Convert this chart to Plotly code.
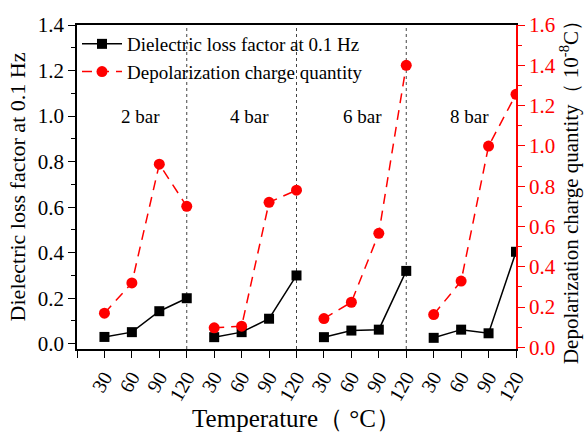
import plotly.graph_objects as go

pressures = ["2 bar", "4 bar", "6 bar", "8 bar"]
temps = [30, 60, 90, 120]
tick_labels = ["30", "60", "90", "120"]

loss_factor = [
    [0.030, 0.051, 0.143, 0.200],
    [0.029, 0.051, 0.110, 0.300],
    [0.029, 0.058, 0.062, 0.320],
    [0.026, 0.062, 0.046, 0.404],
]
charge = [
    [0.170, 0.320, 0.909, 0.700],
    [0.097, 0.105, 0.720, 0.780],
    [0.143, 0.224, 0.566, 1.400],
    [0.163, 0.329, 0.999, 1.256],
]

# build x positions (4 groups x 4 temperatures), gaps between groups
xs, y1, y2 = [], [], []
for g in range(len(pressures)):
    for i in range(len(temps)):
        xs.append(g * len(temps) + i)
        y1.append(loss_factor[g][i])
        y2.append(charge[g][i])
    xs.append(None); y1.append(None); y2.append(None)

FONT = "Liberation Serif"
RED = "#FF0000"

fig = go.Figure()
fig.add_trace(go.Scatter(
    x=xs, y=y1, mode="lines+markers", name="Dielectric loss factor at 0.1 Hz",
    line=dict(color="black", width=1.5),
    marker=dict(symbol="square", size=10, color="black"),
    connectgaps=False,
))
fig.add_trace(go.Scatter(
    x=xs, y=y2, mode="lines+markers", name="Depolarization charge quantity",
    line=dict(color=RED, width=1.5, dash="10px,7px"),
    marker=dict(symbol="circle", size=11, color=RED),
    yaxis="y2", connectgaps=False,
))

n = len(pressures) * len(temps)
tickvals = list(range(-1, n))
ticktext = [" "] + tick_labels * len(pressures)

# dotted separators at the 120 position of groups 1-3
for g in range(len(pressures) - 1):
    xv = g * len(temps) + len(temps) - 1
    fig.add_shape(type="line", xref="x", yref="paper", x0=xv, x1=xv, y0=0, y1=1,
                  line=dict(color="#444444", width=1, dash="dot"), layer="below")

label_x = [1.3, 5.3, 9.4, 13.3]
for p, lx in zip(pressures, label_x):
    fig.add_annotation(x=lx, y=1.0, xref="x", yref="y", text=p, showarrow=False,
                       font=dict(family=FONT, size=19, color="black"))

fig.update_layout(
    width=588, height=434,
    margin=dict(l=77, r=71, t=25, b=83),
    paper_bgcolor="white", plot_bgcolor="white",
    font=dict(family=FONT, size=19, color="black"),
    showlegend=True,
    legend=dict(x=0.0, y=1.0, xanchor="left", yanchor="top",
                bgcolor="rgba(0,0,0,0)", font=dict(family=FONT, size=19, color="black"),
                itemwidth=40, tracegroupgap=0),
    xaxis=dict(
        range=[-1, n - 1], tickmode="array", tickvals=tickvals, ticktext=ticktext,
        tickangle=-60, ticks="outside", ticklen=7, tickcolor="black",
        showline=True, linecolor="black", linewidth=1.5, mirror=True,
        showgrid=False, zeroline=False,
        tickfont=dict(family=FONT, size=20, color="black"),
        title=dict(text="Temperature（ °C）", font=dict(family=FONT, size=25, color="black"), standoff=0),
    ),
    yaxis=dict(
        range=[-0.023, 1.4], tickmode="linear", tick0=0, dtick=0.2, tickformat=".1f",
        ticks="outside", ticklen=7, tickcolor="black",
        minor=dict(ticks="outside", ticklen=4, dtick=0.1, tickcolor="black"),
        showline=True, linecolor="black", linewidth=1.5,
        showgrid=False, zeroline=False,
        tickfont=dict(family=FONT, size=21, color="black"),
        title=dict(text="Dielectric loss factor at 0.1 Hz", font=dict(family=FONT, size=22, color="black"), standoff=6),
    ),
    yaxis2=dict(
        overlaying="y", side="right",
        range=[-0.008, 1.6], tickmode="linear", tick0=0, dtick=0.2, tickformat=".1f",
        ticks="outside", ticklen=7, tickcolor=RED,
        minor=dict(ticks="outside", ticklen=4, dtick=0.1, tickcolor=RED),
        showline=True, linecolor=RED, linewidth=1.5,
        showgrid=False, zeroline=False,
        tickfont=dict(family=FONT, size=21, color=RED),
        title=dict(text="Depolarization charge quantity（ 10<sup>-8</sup>C）",
                   font=dict(family=FONT, size=21, color="black"), standoff=6),
    ),
)

fig.write_html("out.html")
